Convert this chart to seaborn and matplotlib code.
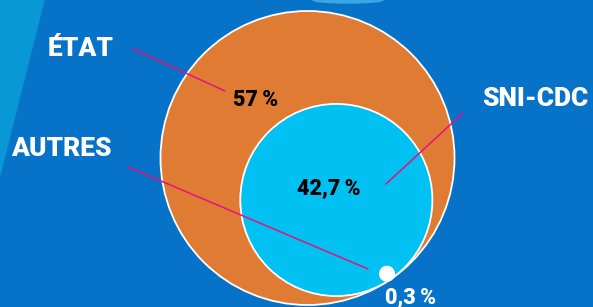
import numpy as np
import matplotlib
matplotlib.use("Agg")
import matplotlib.pyplot as plt
from matplotlib.patches import Circle, Polygon, Ellipse
import seaborn as sns

# Shares of the total (percent)
labels = ["ÉTAT", "SNI-CDC", "AUTRES"]
shares = [57.0, 42.7, 0.3]
value_labels = ["57\u2009%", "42,7\u2009%", "0,3\u2009%"]

sns.set_theme(style="white")
plt.rcParams['font.family'] = ['Roboto', 'DejaVu Sans']

W, H = 593, 307
fig = plt.figure(figsize=(W / 100, H / 100), dpi=100)
ax = fig.add_axes([0, 0, 1, 1])
ax.set_xlim(0, W)
ax.set_ylim(H, 0)
ax.set_aspect('equal')
ax.axis('off')

# background
bg = "#0672c8"
stripe = "#0a97d6"
ax.add_patch(Polygon([[0, 0], [W, 0], [W, H], [0, H]], closed=True, color=bg, zorder=0))
ax.add_patch(Polygon([[0, 0], [44, 0], [0, 175]], closed=True, color=stripe, zorder=0))
ax.add_patch(Ellipse((348, 0), 70, 6, color="#3aa6e4", zorder=0))

# circle areas proportional to the values: outer = total, inner = SNI-CDC, tiny = AUTRES
total = sum(shares)
R = 147
r_inner = R * np.sqrt(shares[1] / total)
r_small = R * np.sqrt(shares[2] / total)

cx, cy = 307.5, 158
ang = np.deg2rad(55.5)
d = np.array([np.cos(ang), np.sin(ang)])
ic = np.array([cx, cy]) + (R - r_inner) * d
sc = ic + (r_inner - r_small + 1.5) * d

orange = "#e07b33"
cyan = "#00c1f1"
ax.add_patch(Circle((cx, cy), R, facecolor=orange, edgecolor="white", lw=1.3, zorder=2))
ax.add_patch(Circle(ic, r_inner, facecolor=cyan, edgecolor="white", lw=1.3, zorder=3))
ax.add_patch(Circle(sc, r_small, facecolor="white", edgecolor="none", zorder=5))

# leader lines
magenta = "#e5127f"
lines = [((133, 49), (225, 91)), ((463, 113), (386, 184)), ((128, 167), (368, 269))]
for (x0, y0), (x1, y1) in lines:
    ax.plot([x0, x1], [y0, y1], color=magenta, lw=1.1, zorder=4)

# category labels
name_pos = [(81, 49), (535, 99), (61, 149)]
for txt, (x, y) in zip(labels, name_pos):
    ax.text(x, y, txt, color="white", fontsize=19, fontweight="black",
            ha="center", va="center", zorder=6)

# value labels
val_pos = [(256, 99.5), (329, 189), (411, 297.5)]
val_col = ["black", "black", "white"]
for txt, (x, y), c in zip(value_labels, val_pos, val_col):
    ax.text(x, y, txt, color=c, fontsize=15.5, fontweight="black",
            ha="center", va="center", zorder=6)

fig.savefig("out.png", dpi=100)
